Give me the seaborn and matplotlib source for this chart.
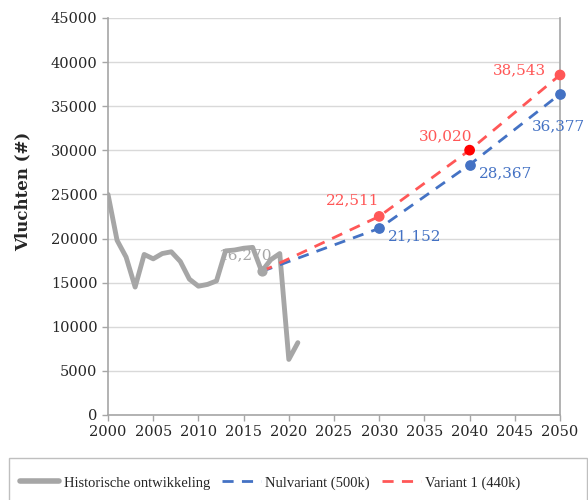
import numpy as np
import pandas as pd
import matplotlib
matplotlib.use("Agg")
import matplotlib.pyplot as plt
from matplotlib.patches import Rectangle
import seaborn as sns

# Historische ontwikkeling
hist_years = list(range(2000, 2022))
hist_flights = [25000, 19800, 17900, 14500, 18200, 17700, 18300, 18500, 17400, 15400,
                14600, 14800, 15200, 18600, 18700, 18900, 19000, 16270, 17600, 18300,
                6300, 8200]

# Prognoses
proj_years = [2017, 2030, 2040, 2050]
nul_flights = [16270, 21152, 28367, 36377]
var1_flights = [16270, 22511, 30020, 38543]

grey = "#A6A6A6"
blue = "#4472C4"
red = "#FF5757"

sns.set_theme(style="white")
plt.rcParams["font.family"] = ["DejaVu Serif"]

fig = plt.figure(figsize=(5.88, 5.0), dpi=100)
ax = fig.add_axes([0.1837, 0.17, 0.7687, 0.794])

hist = pd.DataFrame({"jaar": hist_years, "vluchten": hist_flights})
proj = pd.DataFrame({"jaar": proj_years, "nul": nul_flights, "var1": var1_flights})

sns.lineplot(data=hist, x="jaar", y="vluchten", ax=ax, color=grey, lw=3.5,
             label="Historische ontwikkeling")
sns.lineplot(data=proj, x="jaar", y="nul", ax=ax, color=blue, lw=2,
             linestyle=(0, (4, 3)), label="Nulvariant (500k)")
sns.lineplot(data=proj, x="jaar", y="var1", ax=ax, color=red, lw=2,
             linestyle=(0, (4, 3)), label="Variant 1 (440k)")

# markers
ax.scatter(proj_years[1:], nul_flights[1:], color=blue, s=45, zorder=5, clip_on=False)
ax.scatter(proj_years[1:], var1_flights[1:], color=[red, "#FF0000", red], s=45,
           zorder=5, clip_on=False)
ax.scatter([proj_years[0]], [nul_flights[0]], color=grey, s=40, zorder=4)

# data labels (offsets in pixels)
px = 72 / fig.dpi
ax.annotate(f"{hist_flights[17]:,}", (2017, hist_flights[17]), xytext=(10 * px, 16 * px),
            textcoords="offset points", ha="right", va="center", color=grey, fontsize=11)
nul_off = [(9, -8), (9, -9), (-28, -32)]
for (x, y), (dx, dy) in zip(zip(proj_years[1:], nul_flights[1:]), nul_off):
    ax.annotate(f"{y:,}", (x, y), xytext=(dx * px, dy * px), textcoords="offset points",
                ha="left", va="center", color=blue, fontsize=11, annotation_clip=False)
var_off = [(0, 16), (3, 14), (-14, 5)]
for (x, y), (dx, dy) in zip(zip(proj_years[1:], var1_flights[1:]), var_off):
    ax.annotate(f"{y:,}", (x, y), xytext=(dx * px, dy * px), textcoords="offset points",
                ha="right", va="center", color=red, fontsize=11, annotation_clip=False)

ax.set_xlim(2000, 2050)
ax.set_ylim(0, 45000)
ax.set_xticks(range(2000, 2051, 5))
ax.set_yticks(range(0, 45001, 5000))
ax.tick_params(axis="both", labelsize=10.5, colors="#A6A6A6", labelcolor="#262626",
               length=4, width=1, direction="out", bottom=True, left=True)
ax.yaxis.grid(True, color="#D9D9D9", lw=1)
ax.xaxis.grid(False)
for side in ["left", "bottom", "right"]:
    ax.spines[side].set_color("#A6A6A6")
    ax.spines[side].set_linewidth(1.2)
ax.spines["top"].set_visible(False)
ax.set_xlabel("")
ax.set_ylabel("Vluchten (#)", fontsize=12, fontweight="bold", color="#262626")
ax.yaxis.set_label_coords(-0.17, 0.564)

ax.get_legend().remove()
handles, labels = ax.get_legend_handles_labels()
leg = fig.legend(handles, labels, loc="center left", bbox_to_anchor=(20 / 588, 17 / 500),
                 ncol=3, frameon=False, prop={"family": "Liberation Serif", "size": 10.5},
                 handlelength=2.7, handletextpad=0.3, columnspacing=0.8,
                 borderaxespad=0, borderpad=0)
for h in leg.legend_handles[:1]:
    h.set_linewidth(4)
fig.patches.append(Rectangle((9 / 588, -0.02), 578 / 588, (42 / 500) + 0.02,
                             transform=fig.transFigure, fill=False,
                             edgecolor="#BFBFBF", lw=1))

fig.savefig("out.png", dpi=100)
